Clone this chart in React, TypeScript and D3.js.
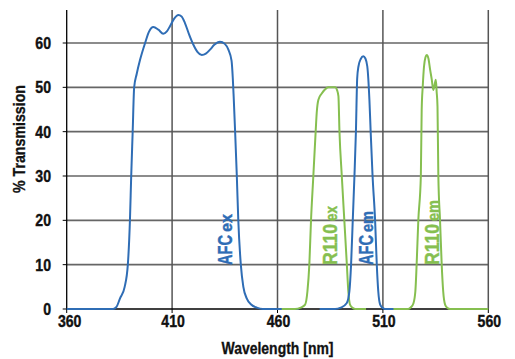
import React from 'react';
import * as d3 from 'd3';

// Spectra: [wavelength nm, % transmission]
const afcEx: [number, number][] = [
  [360, 0], [382, 0], [383.5, 0.4], [385.3, 2.4], [387.5, 5], [389, 10], [390, 20], [390.6, 30],
  [391.3, 40], [392, 50], [393.2, 53], [394.8, 56.2], [397.2, 60], [399, 62.5], [401.1, 63.6],
  [403.5, 63], [405.8, 62.1], [407.5, 62.6], [409, 63.8], [411, 65.5], [413, 66.3], [414.5, 66],
  [416.1, 64.5], [418, 62], [420.1, 59.6], [422, 58], [424.1, 57.3], [426, 57.6], [428, 58.5],
  [430, 59.6], [432.7, 60.3], [435, 59.8], [436.7, 58.5], [438.2, 56], [438.8, 52], [439.2, 48],
  [439.9, 40], [440.7, 30], [441.4, 20], [442.6, 10], [443.8, 5], [445.4, 2.4], [447.5, 1],
  [450.2, 0.3], [453, 0], [470, 0],
];
const r110Ex: [number, number][] = [
  [462, 0], [468.3, 0], [471, 0.3], [473.1, 1], [474.2, 4], [475.1, 10], [475.9, 20], [477, 30],
  [478.1, 40], [478.6, 44.2], [479.4, 47.2], [481, 48.6], [482.5, 49.5], [484.1, 50], [487.3, 50],
  [488.3, 49.3], [488.9, 48], [489.4, 40], [490.5, 30], [491.7, 20], [492.9, 10], [493.6, 4],
  [494.4, 1], [495.8, 0.2], [497, 0], [502, 0],
];
const afcEm: [number, number][] = [
  [480, 0], [487.3, 0], [490, 0.3], [492.8, 1.3], [494.1, 4], [494.9, 10], [495.7, 20], [496.5, 30],
  [497.2, 40], [497.8, 52], [498.4, 54.7], [499.5, 56.4], [500.7, 57], [501.7, 56.5], [502.6, 54.7],
  [503.6, 47.2], [504.2, 40], [505.1, 30], [506.3, 20], [507.1, 10], [507.8, 4], [508.7, 1],
  [510, 0.2], [511, 0], [518, 0],
];
const r110Em: [number, number][] = [
  [515, 0], [522, 0], [523.3, 0.4], [524.5, 1.3], [525.4, 4], [526, 10], [526.8, 20], [528, 30],
  [528.4, 44.9], [528.9, 50.2], [529.5, 54.7], [530.2, 56.8], [530.8, 57.3], [531.6, 56.5],
  [532.4, 54], [533.2, 51.7], [533.9, 49.4], [534.5, 50.5], [535.1, 51.7], [535.5, 49],
  [535.9, 45.7], [536.3, 30], [537.1, 20], [537.9, 10], [538.6, 4], [539.5, 1], [540.5, 0.3],
  [541.9, 0], [560, 0],
];

const xTicks = [360, 410, 460, 510, 560];
const yTicks = [0, 10, 20, 30, 40, 50, 60];

const BLUE = '#2f6db5';
const GREEN = '#86bf50';
const FONT = "'Liberation Sans', Arial, sans-serif";

const labels = [
  { main: 'AFC', sub: 'ex', color: BLUE, x: 232, mainLen: 30, subLen: 18 },
  { main: 'R110', sub: 'ex', color: GREEN, x: 337, mainLen: 41, subLen: 15 },
  { main: 'AFC', sub: 'em', color: BLUE, x: 373, mainLen: 30, subLen: 21 },
  { main: 'R110', sub: 'em', color: GREEN, x: 439, mainLen: 41, subLen: 21 },
];

const App = () => {
  const width = 515;
  const height = 359;
  const left = 66.7;
  const right = 488.3;
  const top = 10;

  const x = d3.scaleLinear().domain([360, 560]).range([left, right]);
  const y = d3.scaleLinear().domain([0, 60]).range([309, 43]);
  const bottom = y(0);

  const line = d3.line<[number, number]>()
    .x(d => x(d[0]))
    .y(d => y(d[1]))
    .curve(d3.curveMonotoneX);

  const series = [
    { data: afcEx, color: BLUE },
    { data: r110Ex, color: GREEN },
    { data: afcEm, color: BLUE },
    { data: r110Em, color: GREEN },
  ];

  return (
    <svg width={width} height={height}
      style={{ position: 'absolute', left: 0, top: 0, background: '#fff' }}
      fontFamily={FONT} fontWeight="bold">
      {/* grid */}
      {yTicks.filter(t => t > 0).map(t => (
        <line key={'h' + t} x1={left} x2={right} y1={y(t)} y2={y(t)} stroke="#666" strokeWidth={1.6} />
      ))}
      {xTicks.filter(t => t > 360).map(t => (
        <line key={'v' + t} x1={x(t)} x2={x(t)} y1={top} y2={bottom} stroke="#555" strokeWidth={1.5} />
      ))}

      {/* axes */}
      <line x1={left} x2={left} y1={top} y2={bottom + 1} stroke="#000" strokeWidth={1.3} />
      <line x1={left} x2={right} y1={bottom} y2={bottom} stroke="#000" strokeWidth={1.3} />
      {yTicks.map(t => (
        <line key={'yt' + t} x1={left - 4} x2={left} y1={y(t)} y2={y(t)} stroke="#000" strokeWidth={1} />
      ))}
      {xTicks.map(t => (
        <line key={'xt' + t} x1={x(t)} x2={x(t)} y1={bottom} y2={bottom + 4} stroke="#000" strokeWidth={1} />
      ))}

      {/* curves */}
      {series.map((s, i) => (
        <path key={i} d={line(s.data) || ''} fill="none" stroke={s.color} strokeWidth={2} strokeLinejoin="round" />
      ))}

      {/* tick labels */}
      <g fill="#111" stroke="#111" strokeWidth={0.4}>
        {yTicks.map(t => {
          const s = String(t);
          return (
            <text key={'yl' + t} x={51} y={y(t) + 6} textAnchor="end" fontSize={17}
              textLength={s.length * 7.85} lengthAdjust="spacingAndGlyphs">{s}</text>
          );
        })}
        {xTicks.map(t => {
          const s = String(t);
          return (
            <text key={'xl' + t} x={x(t) + (t === 360 ? 3 : 1) - 11.75} y={326.5} fontSize={17}
              textLength={23.5} lengthAdjust="spacingAndGlyphs">{s}</text>
          );
        })}

        {/* axis titles */}
        <text transform="translate(25,193) rotate(-90)" fontSize={16} textLength={108}
          lengthAdjust="spacingAndGlyphs" strokeWidth={0.3}>% Transmission</text>
        <text x={221.5} y={354} fontSize={16} textLength={112}
          lengthAdjust="spacingAndGlyphs" strokeWidth={0.3}>Wavelength [nm]</text>
      </g>

      {/* curve labels */}
      {labels.map((l, i) => (
        <g key={i} transform={`translate(${l.x},265) rotate(-90)`} fill={l.color} stroke={l.color} strokeWidth={0.4}>
          <text x={0} y={0} fontSize={21} textLength={l.mainLen} lengthAdjust="spacingAndGlyphs">{l.main}</text>
          <text x={l.mainLen + 3} y={0} fontSize={16} textLength={l.subLen} lengthAdjust="spacingAndGlyphs">{l.sub}</text>
        </g>
      ))}
    </svg>
  );
};

export default App;
